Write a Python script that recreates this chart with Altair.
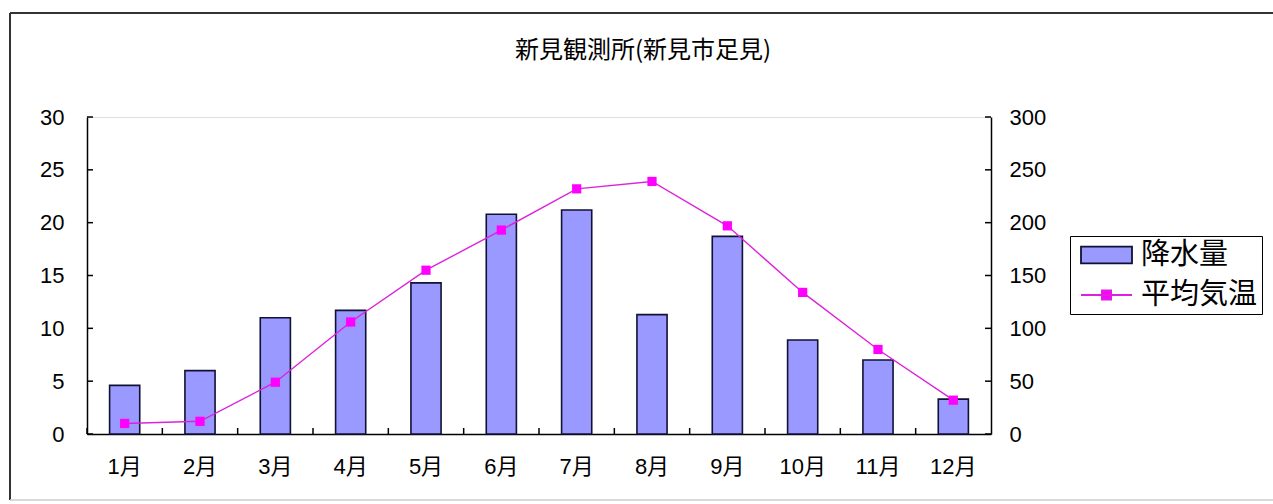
import altair as alt
import pandas as pd

# ---- data ----
months = ["1月", "2月", "3月", "4月", "5月", "6月", "7月", "8月", "9月", "10月", "11月", "12月"]
precip = [46, 60, 110, 117, 143, 208, 212, 113, 187, 89, 70, 33]          # 降水量 (right axis)
temp = [1.0, 1.2, 4.9, 10.6, 15.5, 19.3, 23.2, 23.9, 19.7, 13.4, 8.0, 3.2]  # 平均気温 (left axis)
temp_ticks = [0, 5, 10, 15, 20, 25, 30]
precip_ticks = [0, 50, 100, 150, 200, 250, 300]
series_names = ["降水量", "平均気温"]
title_text = "新見観測所(新見市足見)"

df = pd.DataFrame({"month": months, "precip": precip, "temp": temp})
temp_tick_df = pd.DataFrame({"v": temp_ticks})
precip_tick_df = pd.DataFrame({"v": precip_ticks})
title_df = pd.DataFrame({"t": [title_text]})

W, H = 904, 317
PAD_R = 282
FONT_NUM = "Liberation Sans Narrow, Arial Narrow, Liberation Sans, Noto Sans CJK JP, sans-serif"
FONT_JP = "Noto Sans CJK JP"
BAR_FILL = "#9999ff"
BAR_STROKE = "#111133"
LINE_COL = "#ff00ff"

RECT_PATH = "M-1,-0.33H1V0.33H-1Z"
LINE_PATH = "M-1,0H1M-0.18,-0.18H0.18V0.18H-0.18Z"

temp_scale = alt.Scale(domain=[0, 30], nice=False)
precip_scale = alt.Scale(domain=[0, 300], nice=False)
x_scale = alt.Scale(paddingInner=0, paddingOuter=0)

x_axis = alt.Axis(
    title=None,
    labelAngle=0,
    labelFont=FONT_NUM,
    labelFontSize=22,
    labelColor="black",
    labelPadding=22,
    ticks=False,
    domainColor="black",
    domainWidth=1.5,
    grid=False,
)


def xenc(**kw):
    return alt.X("month:N", sort=months, scale=x_scale, axis=x_axis, **kw)


legend = alt.Legend(
    title=None,
    orient="none",
    legendX=983,
    legendY=119,
    direction="vertical",
    symbolSize=2601,
    symbolStrokeWidth=1.8,
    symbolOpacity=1,
    clipHeight=30,
    rowPadding=10,
    padding=4,
    symbolOffset=6,
    labelOffset=8,
    labelFont=FONT_JP,
    labelFontSize=29,
    labelColor="black",
    strokeColor="black",
    fillColor="white",
)

base = alt.Chart(df)

bars = base.mark_bar(
    color=BAR_FILL, stroke=BAR_STROKE, strokeWidth=1.6, width=alt.RelativeBandSize(0.4)
).encode(
    x=xenc(),
    y=alt.Y(
        "precip:Q",
        scale=precip_scale,
        axis=alt.Axis(
            title=None,
            orient="right",
            values=precip_ticks,
            labelFont=FONT_NUM,
            labelFontSize=22,
            labelColor="black",
            labelPadding=18,
            ticks=False,
            domainColor="black",
            domainWidth=1.5,
            grid=False,
        ),
    ),
)

line = base.mark_line(color="#dd22dd", strokeWidth=1.4).encode(
    x=xenc(),
    y=alt.Y(
        "temp:Q",
        scale=temp_scale,
        axis=alt.Axis(
            title=None,
            orient="left",
            values=temp_ticks,
            labelFont=FONT_NUM,
            labelFontSize=22,
            labelColor="black",
            labelPadding=23,
            ticks=False,
            domainColor="black",
            domainWidth=1.5,
            grid=False,
        ),
    ),
)

points = base.mark_point(shape="square", filled=True, size=85, opacity=1, color=LINE_COL).encode(
    x=xenc(),
    y=alt.Y("temp:Q", scale=temp_scale, axis=None),
)

# invisible layer that only carries the legend (both entries, custom symbols)
legend_layer = base.mark_point(filled=True, opacity=0).transform_calculate(
    series="'平均気温'"
).encode(
    x=xenc(),
    y=alt.Y("temp:Q", scale=temp_scale, axis=None),
    color=alt.Color("series:N", scale=alt.Scale(domain=series_names, range=[BAR_FILL, LINE_COL]), legend=legend),
    shape=alt.Shape("series:N", scale=alt.Scale(domain=series_names, range=[RECT_PATH, LINE_PATH]), legend=legend),
    stroke=alt.Stroke("series:N", scale=alt.Scale(domain=series_names, range=[BAR_STROKE, "#dd22dd"]), legend=legend),
)

# inward-pointing axis ticks
left_ticks = alt.Chart(temp_tick_df).mark_rule(color="black", strokeWidth=1.5).encode(
    y=alt.Y("v:Q", scale=temp_scale, axis=None),
    x=alt.value(0),
    x2=alt.value(6),
)
right_ticks = alt.Chart(precip_tick_df).mark_rule(color="black", strokeWidth=1.5).encode(
    y=alt.Y("v:Q", scale=precip_scale, axis=None),
    x=alt.value(W),
    x2=alt.value(W - 6),
)
bottom_ticks = base.mark_rule(color="black", strokeWidth=1.5).encode(
    x=xenc(bandPosition=0),
    y=alt.value(H),
    y2=alt.value(H - 6),
)

# outer chart-area frame (top, left and bottom edges; right edge lies beyond the picture)
one = alt.Data(values=[{}])
frame_style = dict(color="#333333", strokeWidth=2)
frame_top = alt.Chart(one).mark_rule(**frame_style).encode(
    x=alt.value(-77), x2=alt.value(W + PAD_R), y=alt.value(-104)
)
frame_left = alt.Chart(one).mark_rule(**frame_style).encode(
    x=alt.value(-77), y=alt.value(-104), y2=alt.value(383)
)
frame_bottom = alt.Chart(one).mark_rule(color="#cccccc", strokeWidth=1.5).encode(
    x=alt.value(-77), x2=alt.value(W + PAD_R), y=alt.value(383)
)

title = alt.Chart(title_df).mark_text(
    font=FONT_JP, fontSize=24, color="black", align="center", baseline="middle"
).encode(text="t:N", x=alt.value(556), y=alt.value(-66))

chart = (
    alt.layer(frame_top, frame_left, frame_bottom, title, bars, line, points, legend_layer,
              left_ticks, right_ticks, bottom_ticks)
    .resolve_scale(y="independent")
    .properties(
        width=W,
        height=H,
        autosize=alt.AutoSizeParams(type="none"),
        padding={"left": 87, "top": 117, "right": PAD_R, "bottom": 70},
    )
    .configure_view(stroke=None)
    .configure(background="white")
)

chart.save("out.html", embed_options={"renderer": "svg", "actions": False})
